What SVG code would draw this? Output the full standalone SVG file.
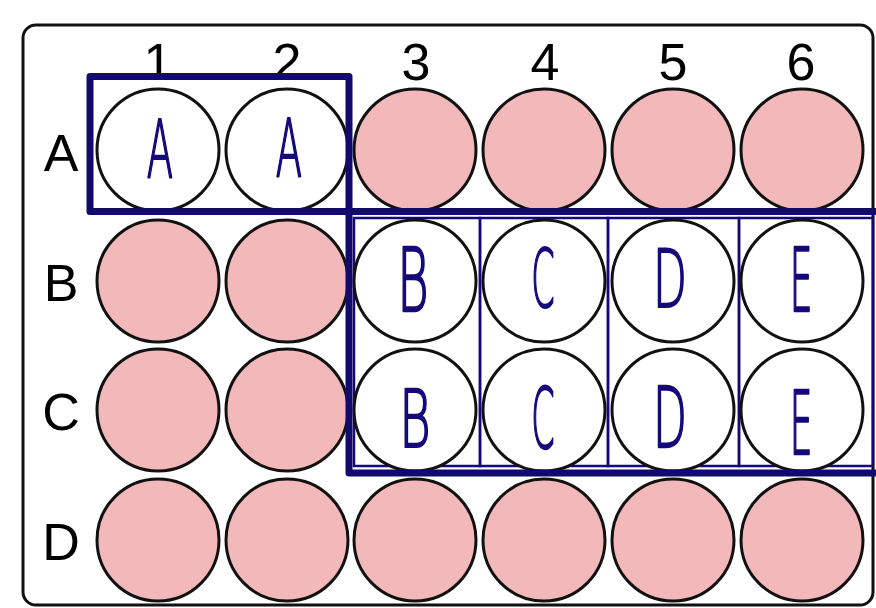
<svg xmlns="http://www.w3.org/2000/svg" width="876" height="608" viewBox="0 0 876 608">
<style>
.lbl{font-family:"Liberation Sans",Arial,sans-serif;font-size:52px;fill:#000;text-anchor:middle}
.hw{font-family:"DejaVu Sans","Liberation Sans",sans-serif;font-weight:200;font-size:80px;fill:#14087a;stroke:#14087a;stroke-width:2.2;stroke-linejoin:round;text-anchor:middle}
.pink{fill:#f3b9ba;stroke:#111;stroke-width:3}
.white{fill:#fff;stroke:#111;stroke-width:3}
.thin{fill:none;stroke:#14087a;stroke-width:2.5}
.thick{fill:none;stroke:#130a6e;stroke-width:7;stroke-linejoin:round}
</style>
<rect width="876" height="608" fill="#fff"/>
<g id="plate"><rect x="23" y="25" width="850" height="580" rx="13" fill="none" stroke="#111" stroke-width="3"/></g>
<g id="col-labels">
<text class="lbl" x="158" y="80">1</text>
<text class="lbl" x="287" y="80">2</text>
<text class="lbl" x="416" y="80">3</text>
<text class="lbl" x="545" y="80">4</text>
<text class="lbl" x="673" y="80">5</text>
<text class="lbl" x="801" y="80">6</text>
</g>
<g id="row-labels">
<text class="lbl" x="61" y="171">A</text>
<text class="lbl" x="61" y="301">B</text>
<text class="lbl" x="61" y="430">C</text>
<text class="lbl" x="61" y="560">D</text>
</g>
<g id="cells">
<rect class="thin" x="354" y="218" width="126" height="248"/>
<rect class="thin" x="480" y="218" width="128" height="248"/>
<rect class="thin" x="608" y="218" width="131" height="248"/>
<rect class="thin" x="739" y="218" width="134" height="248"/>
</g>
<g id="wells">
<g id="A1"><circle class="white" cx="158" cy="150" r="61"/><text class="hw" transform="translate(160,177) scale(0.48,1)">A</text></g>
<g id="A2"><circle class="white" cx="287" cy="150" r="61"/><text class="hw" transform="translate(289,176) scale(0.48,1)">A</text></g>
<g id="A3"><circle class="pink" cx="415" cy="150" r="61"/></g>
<g id="A4"><circle class="pink" cx="544" cy="150" r="61"/></g>
<g id="A5"><circle class="pink" cx="673" cy="150" r="61"/></g>
<g id="A6"><circle class="pink" cx="802" cy="150" r="61"/></g>
<g id="B1"><circle class="pink" cx="158" cy="281" r="61"/></g>
<g id="B2"><circle class="pink" cx="287" cy="281" r="61"/></g>
<g id="B3"><circle class="white" cx="415" cy="281" r="61"/><text class="hw" transform="translate(413,311) scale(0.6,1.08)">B</text></g>
<g id="B4"><circle class="white" cx="544" cy="281" r="61"/><text class="hw" transform="translate(543,307) scale(0.42,1)">C</text></g>
<g id="B5"><circle class="white" cx="673" cy="281" r="61"/><text class="hw" transform="translate(670,307) scale(0.55,1)">D</text></g>
<g id="B6"><circle class="white" cx="802" cy="281" r="61"/><text class="hw" transform="translate(801,311) scale(0.45,1.08)">E</text></g>
<g id="C1"><circle class="pink" cx="158" cy="410" r="61"/></g>
<g id="C2"><circle class="pink" cx="287" cy="410" r="61"/></g>
<g id="C3"><circle class="white" cx="415" cy="410" r="61"/><text class="hw" transform="translate(415,447) scale(0.6,1)">B</text></g>
<g id="C4"><circle class="white" cx="544" cy="410" r="61"/><text class="hw" transform="translate(543,448) scale(0.42,1.05)">C</text></g>
<g id="C5"><circle class="white" cx="673" cy="410" r="61"/><text class="hw" transform="translate(670,447) scale(0.55,1.05)">D</text></g>
<g id="C6"><circle class="white" cx="802" cy="410" r="61"/><text class="hw" transform="translate(801,454) scale(0.45,1.08)">E</text></g>
<g id="D1"><circle class="pink" cx="158" cy="540" r="61"/></g>
<g id="D2"><circle class="pink" cx="287" cy="540" r="61"/></g>
<g id="D3"><circle class="pink" cx="415" cy="540" r="61"/></g>
<g id="D4"><circle class="pink" cx="544" cy="540" r="61"/></g>
<g id="D5"><circle class="pink" cx="673" cy="540" r="61"/></g>
<g id="D6"><circle class="pink" cx="802" cy="540" r="61"/></g>
</g>
<g id="connectors">
<rect id="box-A" class="thick" x="90" y="76.5" width="259" height="135"/>
<path id="box-BE" class="thick" d="M880 211.5 H349 V473 H880"/>
</g>
</svg>
